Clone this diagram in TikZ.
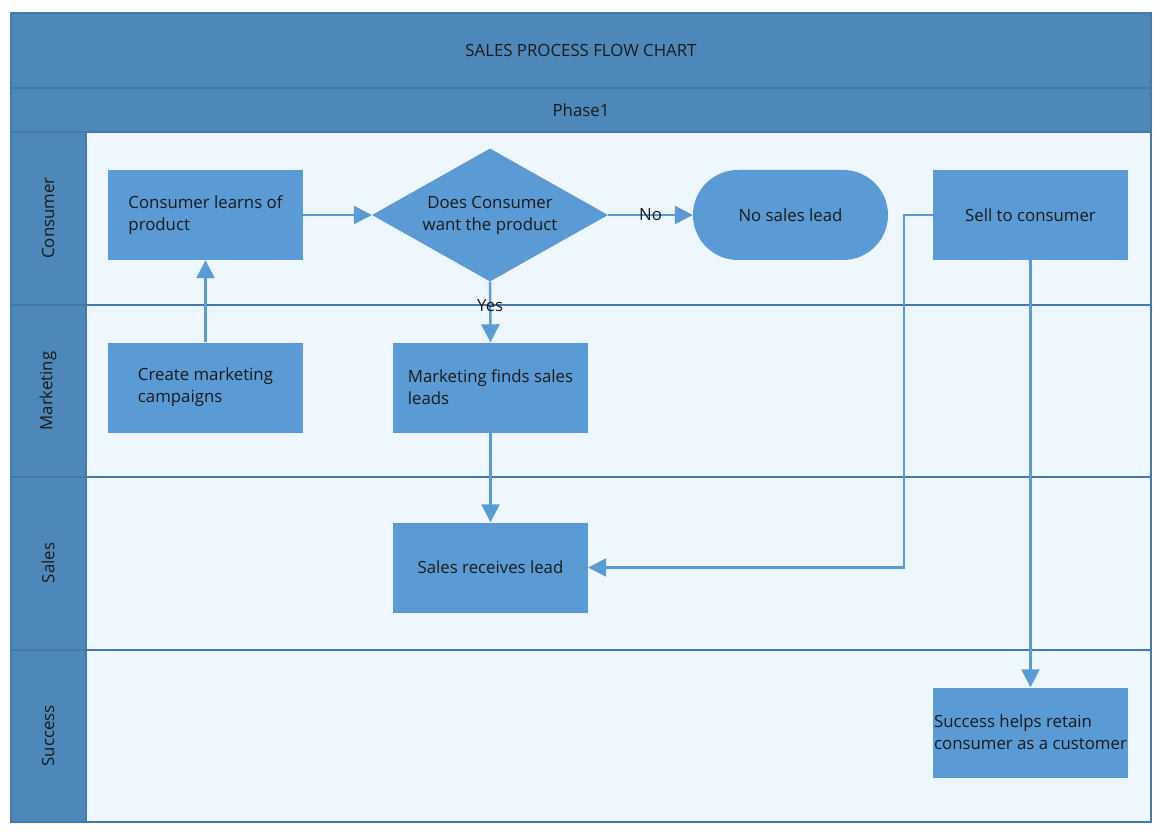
\documentclass[tikz,border=0pt]{standalone}
\usepackage{fontspec}
\setmainfont{Open Sans}
\usetikzlibrary{shapes.geometric,arrows.meta}
\definecolor{hdr}{HTML}{4E88BB}
\definecolor{hdrline}{HTML}{4779A8}
\definecolor{lanebg}{HTML}{EEF6FE}
\definecolor{nodeblue}{HTML}{5B9BD5}
\definecolor{txt}{HTML}{1A1A1A}
\tikzset{
  every node/.style={font=\fontsize{16.8}{22}\selectfont, text=txt},
  box/.style={rectangle, fill=nodeblue, minimum width=195pt, minimum height=90pt, inner sep=0pt, align=left},
  term/.style={box, rounded corners=44.9pt},
  decision/.style={diamond, fill=nodeblue, minimum width=236pt, minimum height=133pt, inner sep=0pt, aspect=1.77, align=center},
  flow/.style={draw=nodeblue, line width=2.5pt, -{Triangle[width=18pt,length=18pt]}},
  lanelabel/.style={rotate=90, anchor=center},
  edgelabel/.style={font=\fontsize{16.8}{18}\selectfont}
}
\begin{document}
\begin{tikzpicture}[x=1pt,y=-1pt]
\useasboundingbox (0,0) rectangle (1162,834);
% frame
\fill[hdr] (11,13) rectangle (1151,822);
\fill[lanebg] (86,132) rectangle (1151,822);
\draw[hdrline, line width=2pt] (11,88) -- (1151,88);
\draw[hdrline, line width=2pt] (11,132) -- (1151,132);
\draw[hdrline, line width=2pt] (11,305) -- (1151,305);
\draw[hdrline, line width=2pt] (11,477) -- (1151,477);
\draw[hdrline, line width=2pt] (11,650) -- (1151,650);
\draw[hdrline, line width=1.5pt] (86,132) -- (86,822);
\draw[hdrline, line width=2pt] (11,13) rectangle (1151,822);
% headers
\node (title) at (581,50) {SALES PROCESS FLOW CHART};
\node (phase) at (581,110) {Phase1};
\node[lanelabel] (l1) at (48,218) {Consumer};
\node[lanelabel] (l2) at (48,391) {Marketing};
\node[lanelabel] (l3) at (48,563) {Sales};
\node[lanelabel] (l4) at (48,736) {Success};
% nodes
\node[box] (learn) at (205.5,215) {Consumer learns of\\product};
\node[decision] (dec) at (490,215) {Does Consumer\\want the product};
\node[term] (nolead) at (790.5,215) {No sales lead};
\node[box] (sell) at (1030.5,215) {Sell to consumer};
\node[box] (camp) at (205.5,387.5) {Create marketing\\campaigns};
\node[box] (find) at (490.5,387.5) {Marketing finds sales\\leads};
\node[box] (recv) at (490.5,567.5) {Sales receives lead};
\node[box] (succ) at (1030.5,732.5) {Success helps retain\\consumer as a customer};
% connectors
\draw[flow] (learn.east) -- (dec.west);
\draw[flow] (camp.north) -- (learn.south);
\draw[flow] (dec.south) -- node[edgelabel, pos=0.39] {Yes} (find.north);
\draw[flow] (dec.east) -- node[edgelabel] {No} (nolead.west);
\draw[flow] (find.south) -- (recv.north);
\draw[flow] (sell.west) -- +(-29,0) |- (recv.east);
\draw[flow] (sell.south) -- (succ.north);
\end{tikzpicture}
\end{document}
